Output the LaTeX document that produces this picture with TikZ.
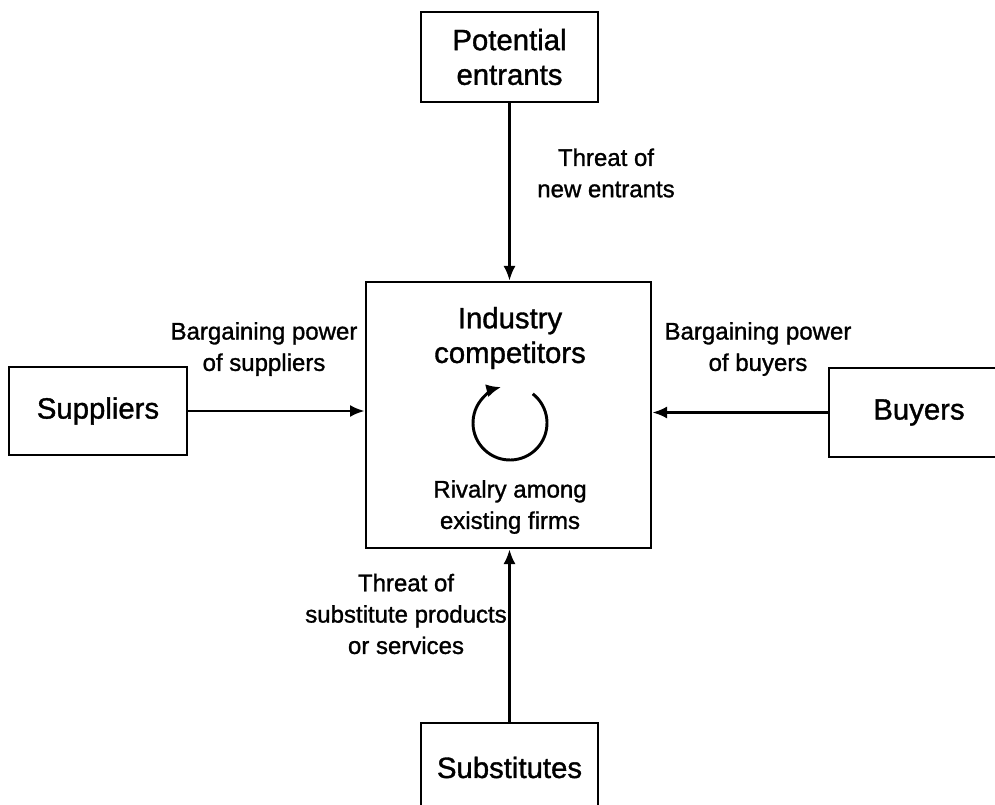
\documentclass[tikz,border=0pt]{standalone}
\usepackage{fontspec}
\setmainfont[FakeBold=1.2]{Liberation Sans}
\usetikzlibrary{arrows.meta}
\newcommand\lblbig{\fontsize{22pt}{26pt}\selectfont}
\newcommand\lblsmall{\fontsize{18pt}{23.5pt}\selectfont}
\begin{document}
\begin{tikzpicture}[x=0.75pt,y=-0.75pt,
  forcebox/.style={draw,line width=2pt,inner sep=0pt,align=center,font=\lblbig},
  bigtext/.style={inner sep=0pt,align=center,font=\lblbig},
  smalltext/.style={inner sep=0pt,align=center,font=\lblsmall},
  conn/.style={line width=1.8pt,-{Latex[length=11pt,width=9pt]}}]
  % canvas
  \useasboundingbox (0,0) rectangle (995,805);
  \fill[white] (0,0) rectangle (995,805);
  \clip (0,0) rectangle (995,805);

  % the five forces
  \node[forcebox,minimum width=132.75pt,minimum height=67.5pt] (pot) at (509.5,57) {Potential\\entrants};
  \node[forcebox,minimum width=213.75pt,minimum height=199.5pt] (comp) at (508.5,415) {};
  \node[forcebox,minimum width=133.5pt,minimum height=66pt] (sup) at (98,411) {Suppliers};
  \node[forcebox,minimum width=135pt,minimum height=66.75pt] (buy) at (919,412.5) {Buyers};
  \node[forcebox,minimum width=132.75pt,minimum height=66.75pt] (sub) at (509.5,767.5) {Substitutes};

  % text inside the central box
  \node[bigtext] (ind) at (510,338) {Industry\\competitors};
  \node[smalltext] (riv) at (510,507) {Rivalry among\\existing firms};

  % rivalry loop
  \coordinate (rc) at (510,423);
  \draw[line width=2.2pt,-{Latex[length=11pt,width=10pt]}] (rc) ++(-52:37) arc[start angle=-52,end angle=256,radius=37];

  % connectors
  \draw[conn] (pot.south) -- (pot.south |- comp.north);
  \draw[conn] (sup.east) -- (sup.east -| comp.west);
  \draw[conn] (buy.west) -- (buy.west -| comp.east);
  \draw[conn] (sub.north) -- (sub.north |- comp.south);

  % force labels
  \node[smalltext] (lnew) at (606,173) {Threat of\\new entrants};
  \node[smalltext] (lsup) at (264,349) {Bargaining power\\of suppliers};
  \node[smalltext] (lbuy) at (758,349) {Bargaining power\\of buyers};
  \node[smalltext] (lsub) at (406,614) {Threat of\\substitute products\\or services};
\end{tikzpicture}
\end{document}
